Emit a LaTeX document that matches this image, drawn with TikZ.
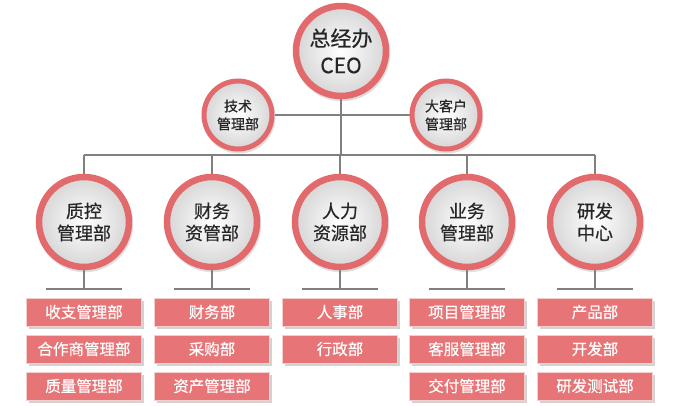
\documentclass[tikz,border=0pt]{standalone}
\usepackage{fontspec}
\newfontfamily\cjk[FakeBold=0.5]{Noto Sans CJK SC}
\usetikzlibrary{shadows,backgrounds}

\definecolor{ringred}{RGB}{226,106,108}
\definecolor{boxred}{RGB}{231,116,118}
\definecolor{linegray}{RGB}{128,128,128}

\tikzset{
  ball/.style={circle, draw=ringred, inner sep=0pt, align=center, text=black!85,
    inner color=white, outer color=black!16,
    drop shadow={opacity=0.25, shadow scale=1.07, shadow xshift=1pt, shadow yshift=-2pt}},
  bigball/.style={ball, line width=6.5pt, minimum size=90pt},
  smallball/.style={ball, line width=5pt, minimum size=68pt, font=\cjk\fontsize{14}{18}\selectfont},
  deptbox/.style={rectangle, minimum width=115pt, minimum height=28pt, inner sep=0pt,
    fill=boxred, draw=white!65!boxred, line width=0.8pt, text=white,
    font=\cjk\fontsize{15.5}{18}\selectfont,
    drop shadow={opacity=0.35, shadow xshift=2pt, shadow yshift=-3pt}},
  link/.style={draw=linegray, line width=1.6pt}
}

\begin{document}
\begin{tikzpicture}[x=1pt, y=-1pt]
  \useasboundingbox (0,0) rectangle (683,406);

  % Top of the chart
  \node[bigball, font=\cjk\fontsize{21}{27}\selectfont] (ceo) at (341,51) {总经办\\CEO};
  \node[smallball] (tech) at (238,115) {技术\\管理部};
  \node[smallball] (client) at (446,115) {大客户\\管理部};
  \coordinate (bus) at (341,155);

  % Departments and their offices
  \foreach \name/\x/\title/\subs in {
      qc/84/{质控\\管理部}/{收支管理部,合作商管理部,质量管理部},
      fin/212/{财务\\资管部}/{财务部,采购部,资产管理部},
      hr/340/{人力\\资源部}/{人事部,行政部},
      biz/467/{业务\\管理部}/{项目管理部,客服管理部,交付管理部},
      rd/595/{研发\\中心}/{产品部,开发部,研发测试部}} {
    \node[bigball, font=\cjk\fontsize{18}{22}\selectfont] (\name) at (\x,222) {\title};
    \coordinate (\name-bar) at (\x,289);
    \foreach \s [count=\i] in \subs {
      \node[deptbox] (\name-\i) at (\x,{275+37*\i}) {\s};
    }
    \begin{scope}[on background layer]
      \draw[link] (\name |- bus) -- (\name);
      \draw[link] (\name) -- (\name-bar);
      \draw[link] ([xshift=-38pt]\name-bar) -- ([xshift=38pt]\name-bar);
    \end{scope}
  }

  % Connectors
  \begin{scope}[on background layer]
    \draw[link] (ceo) -- (bus);
    \draw[link] (tech) -- (client);
    \draw[link] (qc |- bus) -- (rd |- bus);
  \end{scope}
\end{tikzpicture}
\end{document}
